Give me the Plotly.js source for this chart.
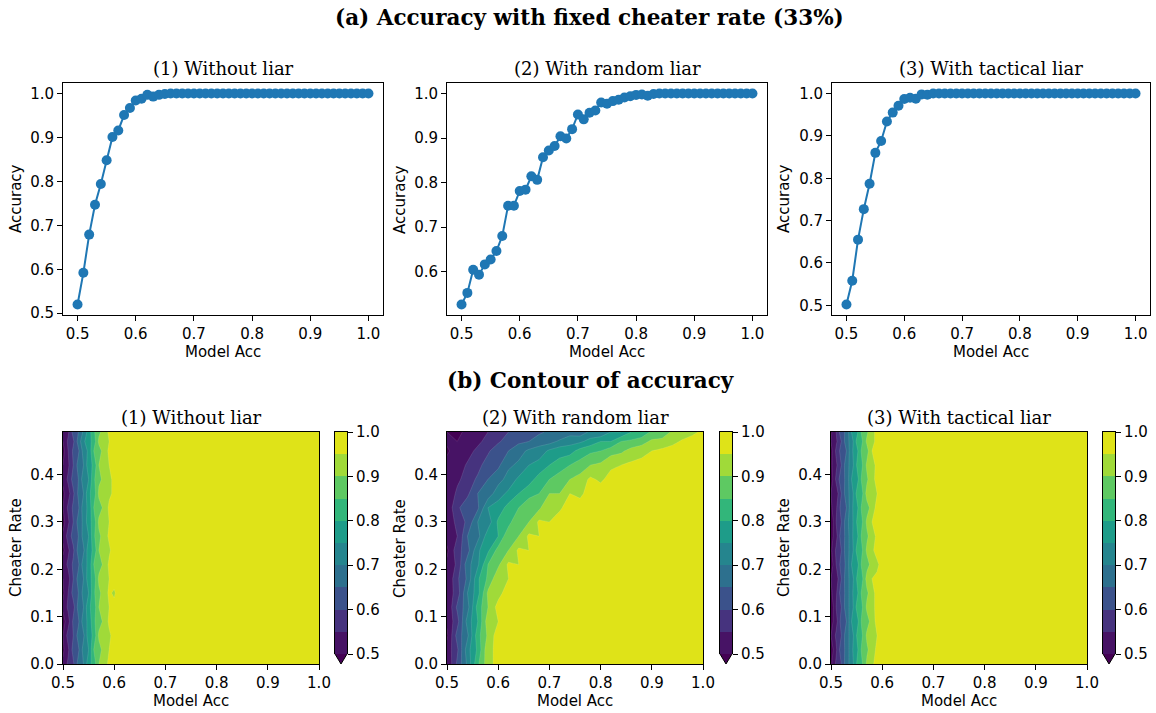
<!DOCTYPE html>
<html><head><meta charset="utf-8">
<script src="https://cdn.plot.ly/plotly-3.0.1.min.js"></script>
<style>html,body{margin:0;padding:0;background:#fff;}#chart{width:1156px;height:713px;}</style>
</head><body><div id="chart"></div>
<script>
// ---------- data ----------
const modelAcc = [0.50,0.51,0.52,0.53,0.54,0.55,0.56,0.57,0.58,0.59,0.60,0.61,0.62,0.63,0.64,0.65,0.66,0.67,0.68,0.69,0.70,0.71,0.72,0.73,0.74,0.75,0.76,0.77,0.78,0.79,0.80,0.81,0.82,0.83,0.84,0.85,0.86,0.87,0.88,0.89,0.90,0.91,0.92,0.93,0.94,0.95,0.96,0.97,0.98,0.99,1.00];
const accWithoutLiar = [0.520,0.592,0.679,0.747,0.794,0.848,0.901,0.916,0.951,0.967,0.984,0.988,0.997,0.993,0.997,0.999,
 1.0,1.0,1.0,1.0,1.0, 1.0,1.0,1.0,1.0,1.0, 1.0,1.0,1.0,1.0,1.0, 1.0,1.0,1.0,1.0,1.0, 1.0,1.0,1.0,1.0,1.0, 1.0,1.0,1.0,1.0,1.0, 1.0,1.0,1.0,1.0,1.0];
const accRandomLiar = [0.526,0.552,0.604,0.593,0.616,0.627,0.646,0.680,0.748,0.748,0.781,0.784,0.814,0.806,0.857,0.872,0.882,0.904,0.899,0.920,0.953,0.942,0.957,0.962,0.980,0.977,0.983,0.986,0.991,0.994,0.997,0.998,0.995,0.999,
 1.0,1.0,1.0,1.0,1.0, 1.0,1.0,1.0,1.0,1.0, 1.0,1.0,1.0,1.0,1.0, 1.0,1.0];
const accTacticalLiar = [0.502,0.558,0.655,0.727,0.787,0.860,0.888,0.934,0.955,0.971,0.987,0.990,0.988,0.998,0.997,
 1.0,1.0,1.0,1.0,1.0, 1.0,1.0,1.0,1.0,1.0, 1.0,1.0,1.0,1.0,1.0, 1.0,1.0,1.0,1.0,1.0, 1.0,1.0,1.0,1.0,1.0, 1.0,1.0,1.0,1.0,1.0, 1.0,1.0,1.0,1.0,1.0, 1.0];

// contour grids
const cheaterRate = [0.00,0.03,0.06,0.09,0.12,0.15,0.18,0.21,0.24,0.27,0.30,0.33,0.36,0.39,0.42,0.45,0.47,0.49];
const modelAccNarrow = [0.50,0.51,0.52,0.53,0.54,0.55,0.56,0.57,0.58,0.59,0.60,0.61,1.00];
const modelAccWide = [0.50,0.52,0.54,0.56,0.58,0.60,0.62,0.64,0.66,0.68,0.70,0.72,0.74,0.76,0.78,0.80,0.82,0.84,0.86,0.88,0.90,0.92,0.94,0.96,0.98,1.00];

const zWithoutLiar = [
 [0.51,0.56,0.59,0.67,0.70,0.78,0.82,0.90,0.93,0.96,0.97,0.99,1],
 [0.49,0.54,0.62,0.64,0.72,0.75,0.85,0.88,0.92,0.95,0.98,0.99,1],
 [0.50,0.57,0.60,0.67,0.69,0.78,0.81,0.91,0.94,0.94,0.97,0.99,1],
 [0.48,0.53,0.61,0.64,0.73,0.76,0.84,0.88,0.91,0.96,0.98,1.00,1],
 [0.51,0.56,0.58,0.67,0.70,0.79,0.82,0.90,0.93,0.95,0.97,0.99,1],
 [0.49,0.55,0.62,0.65,0.72,0.75,0.84,0.89,0.92,0.96,0.94,0.99,1],
 [0.50,0.53,0.60,0.67,0.70,0.78,0.82,0.91,0.94,0.95,0.98,0.99,1],
 [0.52,0.56,0.61,0.64,0.73,0.76,0.85,0.88,0.91,0.96,0.97,1.00,1],
 [0.49,0.54,0.59,0.67,0.69,0.78,0.81,0.90,0.93,0.94,0.98,0.99,1],
 [0.51,0.57,0.62,0.65,0.72,0.75,0.84,0.89,0.92,0.96,0.97,0.99,1],
 [0.48,0.54,0.60,0.67,0.71,0.78,0.82,0.91,0.93,0.95,0.98,1.00,1],
 [0.50,0.56,0.61,0.64,0.73,0.76,0.85,0.88,0.91,0.96,0.97,0.99,1],
 [0.49,0.53,0.59,0.66,0.70,0.79,0.82,0.91,0.92,0.94,0.96,0.99,1],
 [0.51,0.56,0.62,0.65,0.73,0.75,0.84,0.89,0.91,0.93,0.97,0.99,1],
 [0.50,0.54,0.60,0.67,0.70,0.78,0.81,0.90,0.94,0.95,0.98,1.00,1],
 [0.48,0.55,0.61,0.64,0.72,0.76,0.85,0.88,0.92,0.96,0.97,0.99,1],
 [0.50,0.56,0.59,0.67,0.74,0.78,0.82,0.91,0.93,0.95,0.98,0.99,1],
 [0.51,0.54,0.62,0.65,0.71,0.77,0.84,0.89,0.92,0.96,0.97,1.00,1]
];
const zTacticalLiar = [
 [0.49,0.56,0.60,0.68,0.72,0.80,0.84,0.91,0.94,0.97,0.98,0.99,1],
 [0.47,0.54,0.63,0.66,0.74,0.78,0.86,0.89,0.93,0.96,0.99,0.99,1],
 [0.50,0.56,0.60,0.68,0.72,0.80,0.84,0.91,0.95,0.95,0.98,1.00,1],
 [0.48,0.53,0.62,0.65,0.75,0.77,0.86,0.88,0.92,0.97,0.98,0.99,1],
 [0.46,0.55,0.60,0.68,0.72,0.81,0.84,0.91,0.94,0.96,0.99,0.99,1],
 [0.49,0.54,0.63,0.66,0.74,0.78,0.86,0.89,0.93,0.97,0.98,1.00,1],
 [0.50,0.52,0.60,0.68,0.72,0.80,0.83,0.92,0.95,0.96,0.98,0.99,1],
 [0.47,0.55,0.62,0.66,0.75,0.77,0.86,0.88,0.92,0.94,0.97,0.99,1],
 [0.49,0.56,0.60,0.68,0.72,0.81,0.84,0.91,0.94,0.97,0.99,1.00,1],
 [0.48,0.53,0.63,0.66,0.74,0.78,0.86,0.89,0.93,0.96,0.98,0.99,1],
 [0.46,0.55,0.60,0.68,0.73,0.80,0.84,0.91,0.95,0.96,0.98,0.99,1],
 [0.49,0.54,0.62,0.65,0.74,0.78,0.86,0.88,0.92,0.97,0.99,1.00,1],
 [0.50,0.52,0.60,0.68,0.72,0.81,0.83,0.92,0.93,0.95,0.98,0.99,1],
 [0.47,0.56,0.63,0.66,0.75,0.77,0.86,0.89,0.94,0.96,0.98,0.99,1],
 [0.49,0.54,0.60,0.68,0.72,0.80,0.84,0.91,0.92,0.97,0.99,1.00,1],
 [0.48,0.56,0.62,0.65,0.74,0.78,0.86,0.88,0.95,0.96,0.98,0.99,1],
 [0.50,0.54,0.60,0.68,0.72,0.81,0.84,0.91,0.93,0.97,0.98,0.99,1],
 [0.49,0.55,0.63,0.66,0.75,0.78,0.86,0.89,0.94,0.96,0.99,1.00,1]
];
const zRandomLiar = [
 [0.50,0.61,0.71,0.84,0.93,0.97,0.99,1,1,1,1,1,1,1,1,1,1,1,1,1,1,1,1,1,1,1],
 [0.52,0.59,0.73,0.81,0.94,0.96,0.99,1,1,1,1,1,1,1,1,1,1,1,1,1,1,1,1,1,1,1],
 [0.49,0.62,0.69,0.83,0.91,0.98,0.98,1,1,1,1,1,1,1,1,1,1,1,1,1,1,1,1,1,1,1],
 [0.51,0.58,0.72,0.80,0.93,0.95,0.99,0.99,1,1,1,1,1,1,1,1,1,1,1,1,1,1,1,1,1,1],
 [0.50,0.61,0.68,0.82,0.90,0.97,0.96,0.99,1,1,1,1,1,1,1,1,1,1,1,1,1,1,1,1,1,1],
 [0.52,0.57,0.70,0.78,0.91,0.93,0.98,0.99,1,1,1,1,1,1,1,1,1,1,1,1,1,1,1,1,1,1],
 [0.50,0.59,0.66,0.79,0.86,0.94,0.95,0.98,0.99,1,1,1,1,1,1,1,1,1,1,1,1,1,1,1,1,1],
 [0.51,0.56,0.68,0.74,0.85,0.89,0.96,0.95,0.99,0.99,1,1,1,1,1,1,1,1,1,1,1,1,1,1,1,1],
 [0.49,0.58,0.63,0.74,0.79,0.87,0.90,0.96,0.95,0.98,0.99,1,1,1,1,1,1,1,1,1,1,1,1,1,1,1],
 [0.52,0.55,0.65,0.68,0.78,0.80,0.89,0.90,0.96,0.95,0.98,0.99,1,1,1,1,1,1,1,1,1,1,1,1,1,1],
 [0.50,0.57,0.61,0.70,0.72,0.81,0.83,0.90,0.90,0.96,0.95,0.98,0.99,0.99,1,1,1,1,1,1,1,1,1,1,1,1],
 [0.51,0.59,0.63,0.64,0.75,0.77,0.82,0.85,0.89,0.89,0.95,0.94,0.98,0.97,0.99,1,0.99,1,1,1,1,1,1,1,1,1],
 [0.51,0.56,0.59,0.65,0.67,0.73,0.76,0.80,0.83,0.85,0.90,0.90,0.95,0.94,0.97,0.98,0.99,0.99,1,1,1,1,1,1,1,1],
 [0.50,0.54,0.57,0.61,0.65,0.68,0.72,0.76,0.78,0.82,0.85,0.88,0.90,0.92,0.96,0.94,0.97,0.98,0.99,0.99,1,1,1,1,1,1],
 [0.52,0.51,0.56,0.58,0.63,0.64,0.69,0.71,0.75,0.77,0.80,0.82,0.85,0.87,0.90,0.91,0.94,0.95,0.96,0.97,0.98,0.99,1,1,1,1],
 [0.49,0.53,0.52,0.57,0.59,0.64,0.65,0.68,0.71,0.72,0.76,0.78,0.78,0.82,0.84,0.85,0.88,0.89,0.92,0.93,0.95,0.96,0.98,0.98,0.99,1],
 [0.51,0.50,0.53,0.53,0.58,0.59,0.63,0.64,0.65,0.68,0.68,0.71,0.73,0.74,0.77,0.80,0.80,0.85,0.86,0.88,0.91,0.92,0.93,0.96,0.97,0.99],
 [0.50,0.49,0.51,0.52,0.55,0.57,0.60,0.61,0.63,0.64,0.66,0.65,0.68,0.67,0.71,0.70,0.75,0.75,0.80,0.81,0.86,0.86,0.91,0.91,0.94,0.96]
];

const contourLevels = [0.50,0.55,0.60,0.65,0.70,0.75,0.80,0.85,0.90,0.95,1.00];
const colorbarTicks = [0.5,0.6,0.7,0.8,0.9,1.0];
const axisTicks = [0.5,0.6,0.7,0.8,0.9,1.0];
const rateTicks = [0.0,0.1,0.2,0.3,0.4];
const panelTitles = ['(1) Without liar','(2) With random liar','(3) With tactical liar'];
const sectionTitles = ['(a) Accuracy with fixed cheater rate (33%)','(b) Contour of accuracy'];
// colour of "below 0.5" then each 0.05 band (viridis sampled at band centres)
const bandColors = ['#440154','#471365','#46337e','#3b528b','#2d708e','#25858e','#1e9c89','#32b67a','#5ec962','#a0da39','#dfe318'];

// ---------- layout geometry (pixels) ----------
const W = 1156, H = 713;
const fx = v => v / W, fy = v => 1 - v / H;
const topX = [[63,383],[447,767],[832,1150]], topY = [83,315];
const botX = [[63,319],[447,703],[831,1087]], botY = [432,664];
const cbX = [[335,347],[720,732],[1103,1115]], cbY = [432,654], cbTip = 664;
const ylabelX = [16,400,784];

const sans = 'DejaVu Sans, sans-serif', serif = 'DejaVu Serif, serif';
const tickFont = {family: sans, size: 15, color: '#000'};
const labelFont = {family: sans, size: 15, color: '#000'};
const subTitleFont = {family: serif, size: 18, color: '#000'};
const secTitleFont = {family: serif, size: 21.5, color: '#000'};
const bandScale = bandColors.map((c, i) => [i / (bandColors.length - 1), c]);

function baseAxis(extra) {
  return Object.assign({
    showline: true, linecolor: '#000', linewidth: 1, mirror: true,
    ticks: 'outside', ticklen: 5, tickwidth: 1, tickcolor: '#000',
    showgrid: false, zeroline: false, tickfont: tickFont, fixedrange: true
  }, extra);
}
function padRange(arr) {
  const lo = Math.min(...arr), hi = Math.max(...arr), m = (hi - lo) * 0.05;
  return [lo - m, hi + m];
}

const lineSeries = [accWithoutLiar, accRandomLiar, accTacticalLiar];
const contourSets = [
  {x: modelAccNarrow, z: zWithoutLiar},
  {x: modelAccWide, z: zRandomLiar},
  {x: modelAccNarrow, z: zTacticalLiar}
];

const traces = [];
const layout = {
  width: W, height: H, margin: {l: 0, r: 0, t: 0, b: 0},
  paper_bgcolor: '#fff', plot_bgcolor: '#fff', showlegend: false,
  annotations: [], shapes: []
};
const ann = (text, x, y, font, extra) => Object.assign({text, x: fx(x), y: fy(y), xref: 'paper', yref: 'paper', xanchor: 'center', yanchor: 'middle', showarrow: false, font}, extra || {});

const lvStep = contourLevels[1] - contourLevels[0];
for (let i = 0; i < 3; i++) {
  const a = i + 1, b = i + 4, c = i + 7;
  const sa = a === 1 ? '' : String(a);
  // top line charts
  layout['xaxis' + sa] = baseAxis({domain: [fx(topX[i][0]), fx(topX[i][1])], range: padRange(modelAcc), tickvals: axisTicks, tickformat: '.1f', anchor: 'y' + sa});
  layout['yaxis' + sa] = baseAxis({domain: [fy(topY[1]), fy(topY[0])], range: padRange(lineSeries[i]), dtick: 0.1, tick0: 0, tickformat: '.1f', anchor: 'x' + sa});
  traces.push({type: 'scatter', mode: 'lines+markers', x: modelAcc, y: lineSeries[i],
    xaxis: 'x' + sa, yaxis: 'y' + sa,
    line: {color: '#1f77b4', width: 2}, marker: {color: '#1f77b4', size: 10}, hoverinfo: 'skip'});

  // bottom contour
  layout['xaxis' + b] = baseAxis({domain: [fx(botX[i][0]), fx(botX[i][1])], range: [modelAccWide[0], modelAccWide[modelAccWide.length - 1]], tickvals: axisTicks, tickformat: '.1f', anchor: 'y' + b});
  layout['yaxis' + b] = baseAxis({domain: [fy(botY[1]), fy(botY[0])], range: [cheaterRate[0], cheaterRate[cheaterRate.length - 1]], tickvals: rateTicks, tickformat: '.1f', anchor: 'x' + b});
  traces.push({type: 'contour', x: contourSets[i].x, y: cheaterRate, z: contourSets[i].z,
    xaxis: 'x' + b, yaxis: 'y' + b, autocontour: false,
    contours: {start: contourLevels[0], end: contourLevels[contourLevels.length - 2], size: lvStep, coloring: 'fill', showlines: true},
    line: {width: 0.5, color: 'rgba(255,255,255,0.22)', smoothing: 0},
    colorscale: bandScale, showscale: false, hoverinfo: 'skip'});

  // colour bar drawn as a one-column heatmap over the contour levels
  layout['xaxis' + c] = {domain: [fx(cbX[i][0]), fx(cbX[i][1])], range: [0, 1], showticklabels: false, ticks: '', showgrid: false, zeroline: false, showline: true, side: 'top', linecolor: '#000', linewidth: 1, anchor: 'y' + c, fixedrange: true};
  layout['yaxis' + c] = baseAxis({domain: [fy(cbY[1]), fy(cbY[0])], range: [contourLevels[0], contourLevels[contourLevels.length - 1]], side: 'right', tickvals: colorbarTicks, tickformat: '.1f', anchor: 'x' + c});
  traces.push({type: 'heatmap', x: [0, 1], y: contourLevels,
    z: contourLevels.slice(0, -1).map((_, k) => [k + 1]), zmin: 0, zmax: contourLevels.length - 1,
    colorscale: bandScale, showscale: false, xaxis: 'x' + c, yaxis: 'y' + c, hoverinfo: 'skip'});
  // extend-min triangle below the colour bar
  const x0 = fx(cbX[i][0]), x1 = fx(cbX[i][1]), xm = (x0 + x1) / 2;
  layout.shapes.push({type: 'path', xref: 'paper', yref: 'paper',
    path: `M ${x0},${fy(cbY[1])} L ${xm},${fy(cbTip)} L ${x1},${fy(cbY[1])}`,
    fillcolor: bandColors[0], line: {color: '#000', width: 1}});

  const tcx = (topX[i][0] + topX[i][1]) / 2, bcx = (botX[i][0] + botX[i][1]) / 2;
  layout.annotations.push(
    ann(panelTitles[i], tcx, 68, subTitleFont),
    ann(panelTitles[i], bcx, 417, subTitleFont),
    ann('Model Acc', tcx, 352, labelFont),
    ann('Model Acc', bcx, 701, labelFont),
    ann('Accuracy', ylabelX[i], (topY[0] + topY[1]) / 2, labelFont, {textangle: -90}),
    ann('Cheater Rate', ylabelX[i], (botY[0] + botY[1]) / 2, labelFont, {textangle: -90})
  );
}
layout.annotations.push(
  ann('<b>' + sectionTitles[0] + '</b>', 589, 17, secTitleFont),
  ann('<b>' + sectionTitles[1] + '</b>', 590, 380, secTitleFont)
);

Plotly.newPlot('chart', traces, layout, {staticPlot: true, displayModeBar: false});
</script></body></html>
